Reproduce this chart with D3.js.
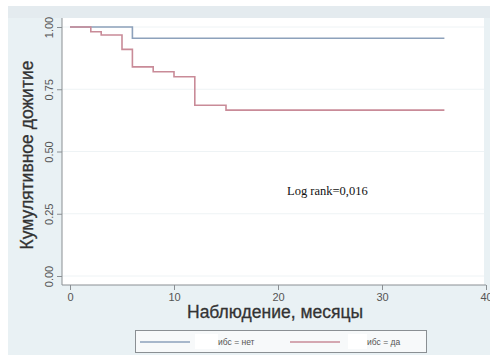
<!DOCTYPE html>
<html>
<head>
<meta charset="utf-8">
<script src="https://cdn.jsdelivr.net/npm/d3@7"></script>
<style>
  html, body { margin: 0; padding: 0; background: #ffffff; }
  svg { display: block; }
</style>
</head>
<body>
<svg id="chart" width="490" height="355"></svg>
<script>
// Kaplan–Meier step curves: event times (months) and survival after each step
const groupNames = ["ибс = нет", "ибс = да"];
const timesNo = [0, 6, 36];
const survNo = [1.0, 0.955, 0.955];
const timesYes = [0, 2, 3, 5, 6, 8, 10, 12, 15, 36];
const survYes = [1.0, 0.981, 0.968, 0.91, 0.84, 0.82, 0.80, 0.686, 0.666, 0.666];
const xTicks = [0, 10, 20, 30, 40];
const yTicks = [0, 0.25, 0.5, 0.75, 1];
const yTickLabels = ["0.00", "0.25", "0.50", "0.75", "1.00"];
const annotation = "Log rank=0,016";
const xTitle = "Наблюдение, месяцы";
const yTitle = "Кумулятивное дожитие";

const colors = ["#8da1bb", "#c98b98"];
const svg = d3.select("#chart");
const sans = "'Liberation Sans', Arial, sans-serif";

// graph region and plot region backgrounds
svg.append("rect").attr("x", 8).attr("y", 6).attr("width", 482).attr("height", 349).attr("fill", "#e9f1f4");
svg.append("rect").attr("x", 8).attr("y", 6).attr("width", 482).attr("height", 12).attr("fill", "#e4ebef");
svg.append("rect").attr("x", 62).attr("y", 18).attr("width", 422).attr("height", 267).attr("fill", "#ffffff");

const x = d3.scaleLinear().domain([0, 40]).range([70, 486]);
const y = d3.scaleLinear().domain([0, 1]).range([276, 27]);

// faint horizontal grid
svg.append("g").selectAll("line").data(yTicks).join("line")
  .attr("x1", 62).attr("x2", 484)
  .attr("y1", d => y(d)).attr("y2", d => y(d))
  .attr("stroke", "#eef3f5").attr("stroke-width", 1);

// y axis
const yAxis = svg.append("g").attr("transform", "translate(62,0)")
  .call(d3.axisLeft(y).tickValues(yTicks).tickSize(5)
    .tickFormat((d, i) => yTickLabels[i]));
yAxis.select(".domain").attr("d", "M0,18V285").attr("stroke", "#8a8f93");
yAxis.selectAll(".tick line").attr("stroke", "#8a8f93");
yAxis.selectAll(".tick text")
  .attr("x", null).attr("dy", null)
  .attr("transform", "translate(-9,0) rotate(-90)")
  .attr("text-anchor", "middle")
  .attr("fill", "#555").attr("font-family", sans).attr("font-size", 11);

// x axis
const xAxis = svg.append("g").attr("transform", "translate(0,285)")
  .call(d3.axisBottom(x).tickValues(xTicks).tickSize(5));
xAxis.select(".domain").attr("d", "M62,0H486").attr("stroke", "#8a8f93");
xAxis.selectAll(".tick line").attr("stroke", "#8a8f93");
xAxis.selectAll(".tick text")
  .attr("y", 16).attr("dy", null)
  .attr("fill", "#555").attr("font-family", sans).attr("font-size", 11);

// axis titles
svg.append("text").attr("x", 275).attr("y", 318).attr("text-anchor", "middle")
  .attr("font-family", sans).attr("font-size", 17.5).attr("fill", "#333")
  .attr("stroke", "#333").attr("stroke-width", 0.3)
  .text(xTitle);
svg.append("text").attr("transform", "translate(33,155) rotate(-90)")
  .attr("text-anchor", "middle")
  .attr("font-family", sans).attr("font-size", 17.5).attr("fill", "#333")
  .attr("stroke", "#333").attr("stroke-width", 0.3)
  .text(yTitle);

// survival step curves
const line = d3.line().x(d => x(d[0])).y(d => y(d[1])).curve(d3.curveStepAfter);
const curves = [
  d3.zip(timesNo, survNo),
  d3.zip(timesYes, survYes)
];
svg.append("g").selectAll("path").data(curves).join("path")
  .attr("d", line)
  .attr("fill", "none")
  .attr("stroke", (d, i) => colors[i])
  .attr("stroke-width", 1.6);

// annotation
svg.append("text").attr("x", 287).attr("y", 195)
  .attr("font-family", "'Liberation Serif', 'Times New Roman', serif")
  .attr("font-size", 12.5).attr("fill", "#111")
  .text(annotation);

// legend
const lg = svg.append("g");
lg.append("rect").attr("x", 135.5).attr("y", 330.5).attr("width", 291).attr("height", 22)
  .attr("fill", "#f7f9fa").attr("stroke", "#8a8f93").attr("stroke-width", 1);
const items = [{x0: 140, tx: 218, wx: 195}, {x0: 290, tx: 367, wx: 348}];
items.forEach((it, i) => {
  lg.append("line").attr("x1", it.x0).attr("x2", it.x0 + 50)
    .attr("y1", 342).attr("y2", 342)
    .attr("stroke", colors[i]).attr("stroke-width", 1.4);
  lg.append("rect").attr("x", it.wx).attr("y", 334).attr("width", it.tx - it.wx).attr("height", 15)
    .attr("fill", "#ffffff");
  lg.append("text").attr("x", it.tx).attr("y", 345)
    .attr("font-family", sans).attr("font-size", 8.5).attr("fill", "#555")
    .text(groupNames[i]);
});
</script>
</body>
</html>
